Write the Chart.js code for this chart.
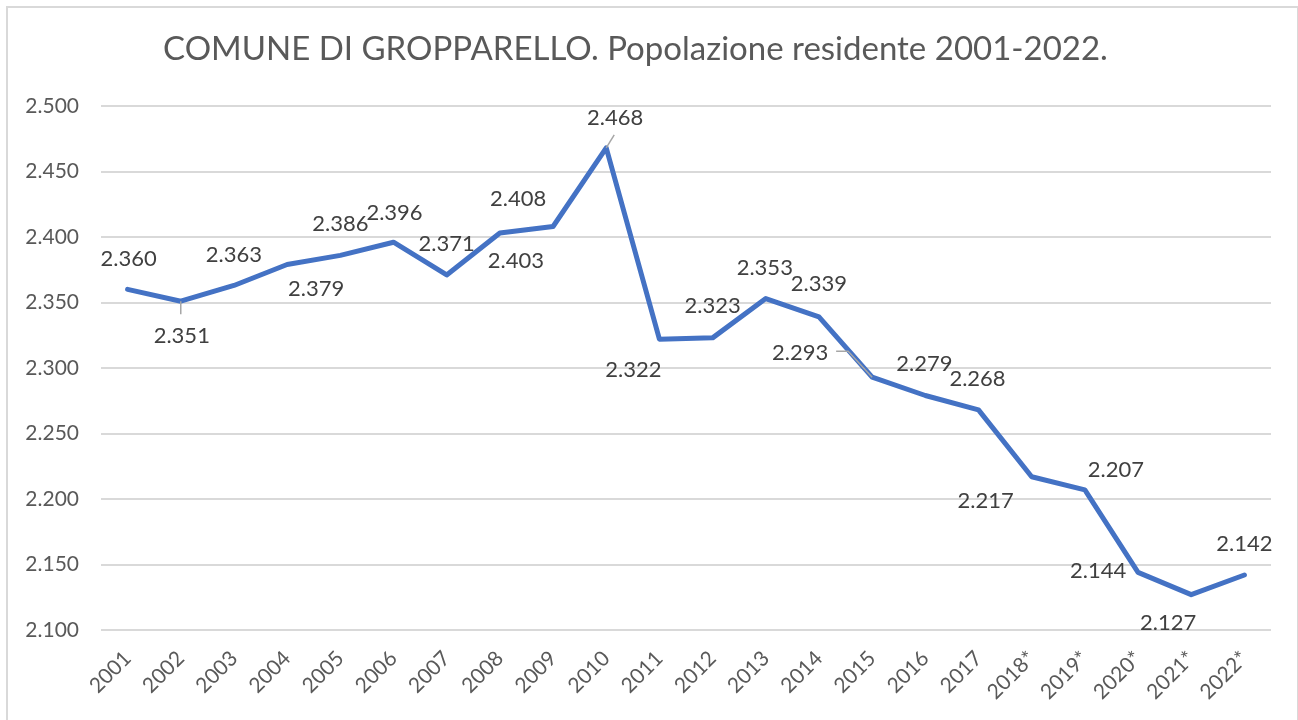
<!DOCTYPE html>
<html>
<head>
<meta charset="utf-8">
<title>Gropparello - popolazione residente</title>
<script src="https://cdn.jsdelivr.net/npm/chart.js@4.4.1/dist/chart.umd.min.js"></script>
<style>
  html, body { margin: 0; padding: 0; background: #fff; }
</style>
</head>
<body>
<canvas id="grafico" width="1298" height="720"></canvas>
<script>
// dati
const anni = ["2001", "2002", "2003", "2004", "2005", "2006", "2007", "2008", "2009", "2010", "2011",
  "2012", "2013", "2014", "2015", "2016", "2017", "2018*", "2019*", "2020*", "2021*", "2022*"];
const popolazione = [2360, 2351, 2363, 2379, 2386, 2396, 2371, 2403, 2408, 2468, 2322,
  2323, 2353, 2339, 2293, 2279, 2268, 2217, 2207, 2144, 2127, 2142];
const tickY = [2100, 2150, 2200, 2250, 2300, 2350, 2400, 2450, 2500];

// spostamento delle etichette rispetto al punto (come in Excel)
const spostamenti = [[1, -31], [1, 34], [0, -31], [29, 23], [0, -32], [1, -30], [0, -32], [16, 27],
  [-35, -29], [9, -31], [-26, 30], [0, -33], [-1, -32], [0, -34], [-72, -25], [-1, -33],
  [-1, -32], [-46, 23], [31, -21], [-40, -2], [-23, 27], [0, -32]];
// linee guida (relative al punto)
const guide = { 1: [[0, 0], [0, 13]], 9: [[0, 0], [8, -13]], 14: [[0, 0], [-24, -26], [-36, -26]] };

function formatta(v) {
  const s = String(Math.round(v));
  return s.length > 3 ? s.slice(0, -3) + "." + s.slice(-3) : s;
}

const FONT = "Lato";

const cornicePlugin = {
  id: "cornice",
  beforeDraw(chart) {
    const ctx = chart.ctx;
    ctx.save();
    ctx.fillStyle = "#fff";
    ctx.fillRect(0, 0, chart.width, chart.height);
    ctx.strokeStyle = "#d9d9d9";
    ctx.lineWidth = 2;
    ctx.strokeRect(7, 7, 1291, 800);
    ctx.restore();
  }
};

const etichettePlugin = {
  id: "etichette",
  afterDatasetsDraw(chart) {
    const ctx = chart.ctx;
    const meta = chart.getDatasetMeta(0);
    ctx.save();
    meta.data.forEach((pt, i) => {
      const g = guide[i];
      if (g) {
        ctx.strokeStyle = "#a6a6a6";
        ctx.lineWidth = 1.5;
        ctx.beginPath();
        g.forEach(([gx, gy], k) => {
          if (k === 0) ctx.moveTo(pt.x + gx, pt.y + gy);
          else ctx.lineTo(pt.x + gx, pt.y + gy);
        });
        ctx.stroke();
      }
      const [dx, dy] = spostamenti[i];
      ctx.font = "22px " + FONT;
      ctx.fillStyle = "#404040";
      ctx.textAlign = "center";
      ctx.textBaseline = "alphabetic";
      ctx.fillText(formatta(popolazione[i]), pt.x + dx, pt.y + dy + 8);
    });
    ctx.restore();
  }
};

const grafico = new Chart(document.getElementById("grafico"), {
  type: "line",
  data: {
    labels: anni,
    datasets: [{
      data: popolazione,
      borderColor: "#4472C4",
      borderWidth: 5,
      borderJoinStyle: "round",
      borderCapStyle: "round",
      pointRadius: 0,
      tension: 0,
      fill: false
    }]
  },
  options: {
    responsive: false,
    animation: false,
    layout: { padding: { left: 0, right: 27, top: 0, bottom: 0 } },
    plugins: {
      legend: { display: false },
      tooltip: { enabled: false },
      title: {
        display: true,
        text: "COMUNE DI GROPPARELLO. Popolazione residente 2001-2022.",
        color: "#595959",
        font: { family: FONT, size: 33, weight: "normal" },
        padding: { top: 30, bottom: 36.4 }
      }
    },
    scales: {
      x: {
        offset: true,
        grid: { display: false },
        border: { display: false },
        ticks: {
          color: "#595959",
          font: { family: FONT, size: 21 },
          minRotation: 45,
          maxRotation: 45,
          autoSkip: false,
          padding: 8
        },
        afterFit(scale) { scale.height = 90; }
      },
      y: {
        min: 2100,
        max: 2500,
        grid: { color: "#d9d9d9", lineWidth: 2, drawTicks: false },
        border: { display: false },
        ticks: {
          color: "#595959",
          font: { family: FONT, size: 21 },
          padding: 22,
          callback: (v) => formatta(v)
        },
        afterBuildTicks(scale) { scale.ticks = tickY.map(v => ({ value: v })); },
        afterFit(scale) { scale.width = 101; }
      }
    }
  },
  plugins: [cornicePlugin, etichettePlugin]
});
</script>
</body>
</html>
